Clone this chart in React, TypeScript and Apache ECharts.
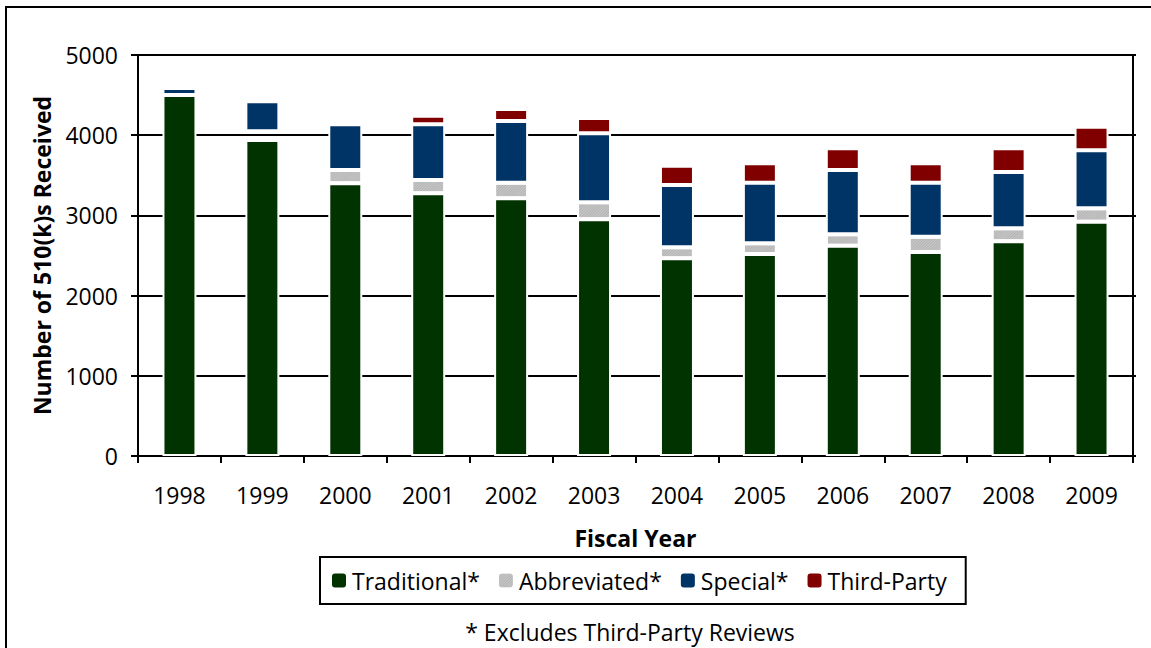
import React, { useEffect, useRef } from "react";
import * as echarts from "echarts";

const years = ["1998", "1999", "2000", "2001", "2002", "2003", "2004", "2005", "2006", "2007", "2008", "2009"];
const traditional = [4500, 3940, 3400, 3276, 3213, 2951, 2465, 2519, 2622, 2544, 2677, 2921];
const abbreviated = [0, 110, 166, 165, 195, 212, 137, 133, 142, 191, 162, 167];
const special = [89, 373, 570, 695, 770, 860, 777, 756, 802, 673, 702, 723];
const thirdParty = [0, 0, 50, 107, 150, 190, 241, 241, 270, 241, 295, 295];
// 1999's abbreviated slot shows as an empty gap in the reference
const hiddenAbbrev = [false, true, false, false, false, false, false, false, false, false, false, false];

const yTicks = [0, 1000, 2000, 3000, 4000, 5000];

const FONT = "Open Sans";

export default function App() {
  const ref = useRef<HTMLDivElement>(null);
  useEffect(() => {
    if (!ref.current) return;
    const chart = echarts.init(ref.current, undefined, { renderer: "svg" });
    const seg = (color: string) => ({
      color,
      borderColor: "#ffffff",
      borderWidth: 2,
    });
    const barBase = { type: "bar", stack: "total", barWidth: 34 };
    chart.setOption({
      animation: false,
      backgroundColor: "#ffffff",
      textStyle: { fontFamily: FONT, color: "#000" },
      grid: { left: 138, right: 18, top: 55, bottom: 192, containLabel: false },
      legend: {
        left: 320,
        top: 557,
        itemWidth: 16,
        itemHeight: 16,
        itemGap: 17,
        padding: [12, 19, 12, 10],
        borderColor: "#000",
        borderWidth: 2,
        textStyle: { fontFamily: FONT, fontSize: 23, color: "#000" },
        data: ["Traditional*", "Abbreviated*", "Special*", "Third-Party"],
      },
      xAxis: {
        type: "category",
        data: years,
        name: "Fiscal Year",
        nameLocation: "middle",
        nameGap: 70,
        nameTextStyle: { fontFamily: FONT, fontSize: 23, fontWeight: "bold", color: "#000" },
        axisLine: { show: true, lineStyle: { color: "#000", width: 2 } },
        axisTick: { show: true, length: 7, lineStyle: { color: "#000", width: 2 } },
        axisLabel: { fontFamily: FONT, fontSize: 23, color: "#000", margin: 27 },
      },
      yAxis: [
        {
          type: "value",
          min: 0,
          max: 5000,
          interval: 1000,
          name: "Number of 510(k)s Received",
          nameLocation: "middle",
          nameGap: 85,
          nameTextStyle: { fontFamily: FONT, fontSize: 23, fontWeight: "bold", color: "#000" },
          axisLine: { show: true, lineStyle: { color: "#000", width: 2 } },
          axisTick: { show: true, length: 7, lineStyle: { color: "#000", width: 2 } },
          axisLabel: {
            fontFamily: FONT,
            fontSize: 23,
            color: "#000",
            margin: 20,
            formatter: (v: number) => (yTicks.includes(v) ? String(v) : ""),
          },
          splitLine: { show: true, lineStyle: { color: "#000", width: 2 } },
        },
        {
          type: "value",
          position: "right",
          min: 0,
          max: 5000,
          interval: 1000,
          axisLine: { show: true, lineStyle: { color: "#000", width: 2 } },
          axisTick: { show: true, length: 3, lineStyle: { color: "#000", width: 2 } },
          axisLabel: { show: false },
          splitLine: { show: false },
        },
      ],
      series: [
        { ...barBase, name: "Traditional*", data: traditional, itemStyle: seg("#003300") },
        {
          ...barBase,
          name: "Abbreviated*",
          data: abbreviated.map((v, i) =>
            hiddenAbbrev[i]
              ? { value: v, itemStyle: { color: "rgba(0,0,0,0)", borderColor: "rgba(0,0,0,0)", decal: "none" } }
              : v
          ),
          itemStyle: {
            ...seg("#c8c8c8"),
            decal: {
              symbol: "rect",
              color: "rgba(160,160,160,0.5)",
              dashArrayX: [1, 0],
              dashArrayY: [1, 1],
              rotation: -Math.PI / 4,
            },
          },
        },
        { ...barBase, name: "Special*", data: special, itemStyle: seg("#003366") },
        { ...barBase, name: "Third-Party", data: thirdParty, itemStyle: seg("#800000") },
      ],
      graphic: [
        {
          type: "rect",
          shape: { x: 6, y: 7, width: 1200, height: 800 },
          style: { fill: "none", stroke: "#000", lineWidth: 2 },
          silent: true,
        },
        {
          type: "text",
          x: 630,
          y: 632,
          style: {
            text: "* Excludes Third-Party Reviews",
            fontFamily: FONT,
            fontSize: 23,
            fill: "#000",
            align: "center",
            verticalAlign: "middle",
          },
        },
      ],
    });
    return () => chart.dispose();
  }, []);
  return (
    <div
      ref={ref}
      style={{ position: "absolute", left: 0, top: 0, width: 1151, height: 648 }}
    />
  );
}
